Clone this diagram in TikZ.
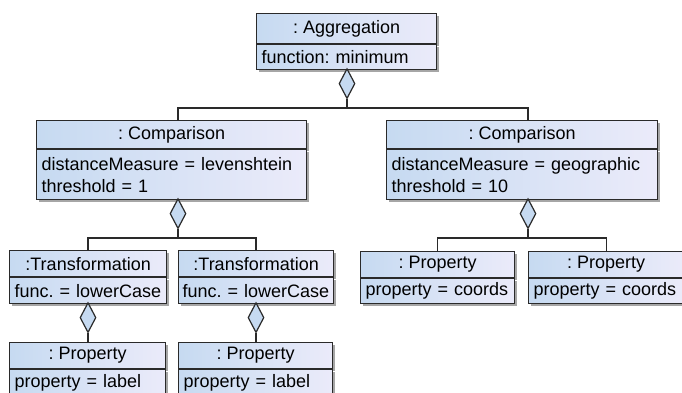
\documentclass[tikz,border=0pt]{standalone}
\usepackage{fontspec}
\setmainfont{Liberation Sans}
\usetikzlibrary{shapes.geometric,shadows}
\definecolor{umlblue}{HTML}{C6DAF1}
\definecolor{umllav}{HTML}{EBEBFA}
\definecolor{umlline}{HTML}{2A2A2A}
\frenchspacing

\begin{document}
\begin{tikzpicture}[x=1pt,y=-1pt,
  font=\fontsize{18}{22}\selectfont,
  box/.style={draw=umlline, line width=1.2pt, left color=umlblue, right color=umllav,
    drop shadow={shadow xshift=2.5pt, shadow yshift=-2.5pt, fill=black, opacity=.35},
    inner xsep=5pt, inner ysep=0pt},
  hd/.style={box, anchor=north west, minimum width=#1, minimum height=28pt},
  bd/.style={box, anchor=north, align=left, minimum height=26pt,
    execute at begin node={\hyphenpenalty=10000\exhyphenpenalty=10000\hbadness=10000}},
  agg/.style={diamond, draw=umlline, line width=1.2pt, fill=umlblue, inner sep=0pt,
    minimum width=16pt, minimum height=30pt, anchor=north},
  link/.style={draw=umlline, line width=1.2pt}]

\clip (0,0) rectangle (682,392);
\fill[white] (0,0) rectangle (682,392);

% aggregation
\node[hd=180pt, minimum height=30pt] (aggh) at (256,13) {: Aggregation};
\node[bd, text width=170pt, minimum height=25pt] (aggb) at (aggh.south) {function: minimum};
\node[agg] (d1) at (347,68) {};
\coordinate (j1) at (347,108);

% comparisons
\node[hd=270pt] (cmplh) at (36,120) {: Comparison};
\node[bd, text width=260pt, minimum height=50pt] (cmplb) at (cmplh.south)
  {distanceMeasure = levenshtein\\threshold = 1};
\node[hd=271pt] (cmprh) at (386,120) {: Comparison};
\node[bd, text width=261pt, minimum height=50pt] (cmprb) at (cmprh.south)
  {distanceMeasure = geographic\\threshold = 10};
\node[agg] (d2) at (178,198) {};
\node[agg] (d3) at (528,198) {};
\coordinate (j2) at (178,238);
\coordinate (j3) at (528,238);

% transformations
\node[hd=157pt, minimum height=26pt] (trlh) at (9,250) {:Transformation};
\node[bd, text width=147pt] (trlb) at (trlh.south) {func. = lowerCase};
\node[hd=155pt, minimum height=26pt] (trrh) at (178,250) {:Transformation};
\node[bd, text width=147pt, inner xsep=4pt] (trrb) at (trrh.south) {func. = lowerCase};
\node[agg] (d4) at (88,302) {};
\node[agg] (d5) at (256,302) {};

% properties
\node[hd=156pt, minimum height=26pt] (prlh) at (9,342) {: Property};
\node[bd, text width=146pt] (prlb) at (prlh.south) {property = label};
\node[hd=154pt, minimum height=26pt] (prrh) at (178,342) {: Property};
\node[bd, text width=144pt] (prrb) at (prrh.south) {property = label};
\node[hd=154pt, minimum height=26pt] (colh) at (360,251) {: Property};
\node[bd, text width=144pt, minimum height=25pt] (colb) at (colh.south) {property = coords};
\node[hd=155pt, minimum height=26pt] (corh) at (528,251) {: Property};
\node[bd, text width=145pt, minimum height=25pt] (corb) at (corh.south) {property = coords};

% connectors
\draw[link] (d1.south) -- (j1);
\draw[link] (d2 |- cmplh.north) |- (j1) -| (d3 |- cmprh.north);
\draw[link] (d2.south) -- (j2);
\draw[link] (d4 |- trlh.north) |- (j2) -| (d5 |- trrh.north);
\draw[link] (d3.south) -- (j3);
\draw[link] (colh.north) |- (j3) -| (corh.north);
\draw[link] (d4.south) -- (prlh.north -| d4);
\draw[link] (d5.south) -- (prrh.north -| d5);
\end{tikzpicture}
\end{document}
